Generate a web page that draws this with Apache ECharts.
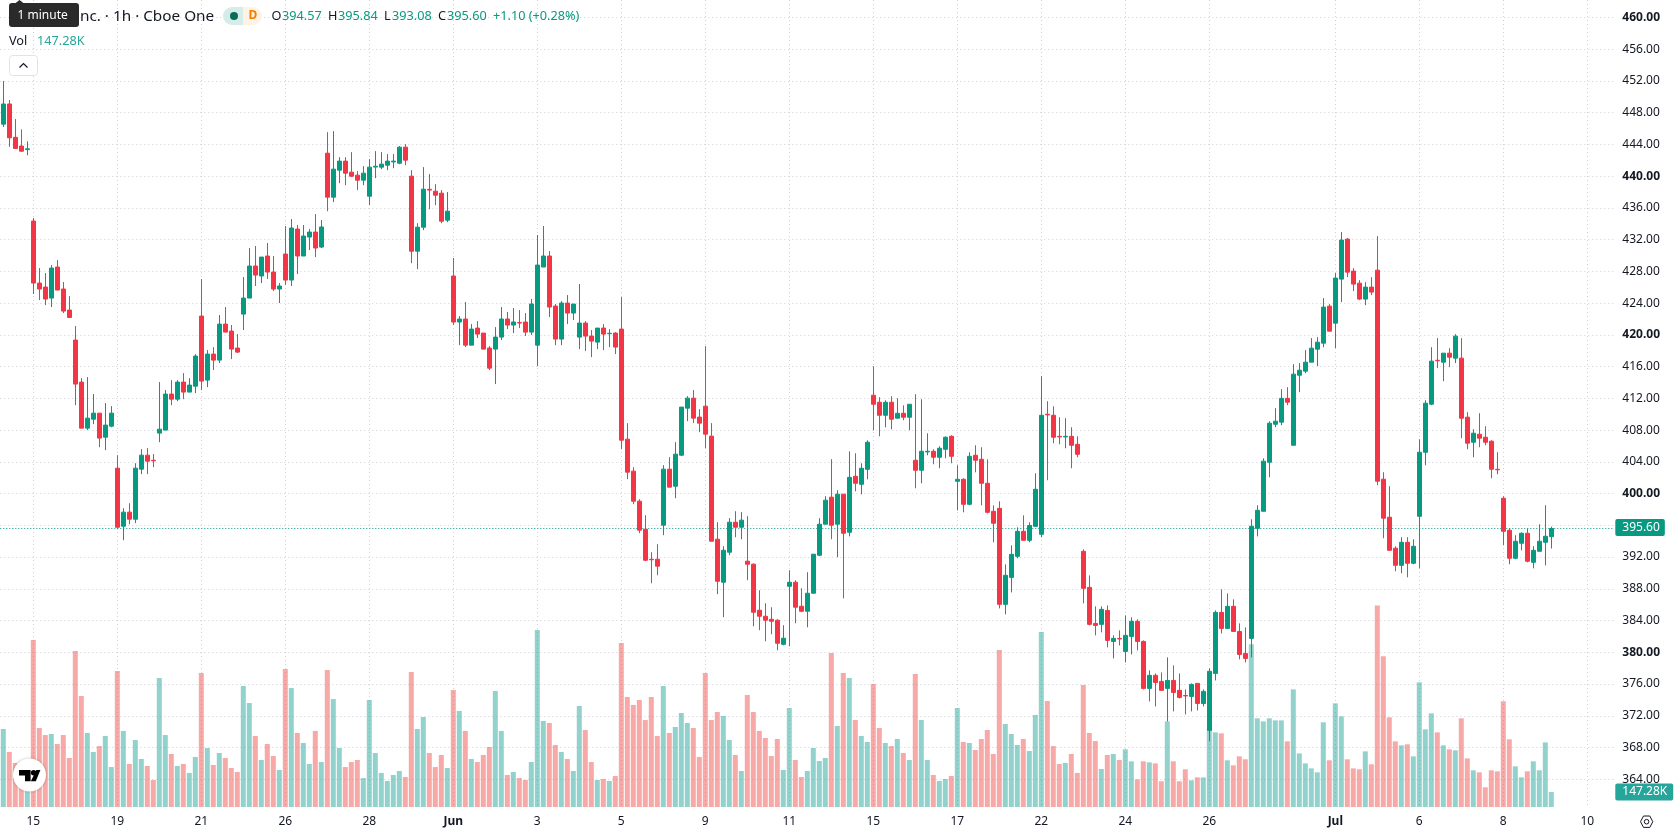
<!DOCTYPE html>
<html>
<head>
<meta charset="utf-8">
<title>1h candlestick chart</title>
<style>
html,body{margin:0;padding:0;background:#fff;overflow:hidden}
#chart{width:1678px;height:835px}
</style>
<script src="https://cdn.jsdelivr.net/npm/echarts@6/dist/echarts.min.js"></script>
</head>
<body>
<div id="chart"></div>
<script>
// Hourly session prices, oldest bar first.
const opens = [
446.56,449.1,444.9,443.8,443.35,434.35,426.53,426.03,424.64,428.55,
425.78,423.13,419.35,414.05,408.25,409.38,410.14,407.11,408.5,403.2,
395.89,397.66,396.77,403.08,404.84,404.2,407.62,408,412.54,411.9,
414.05,412.79,413.54,422.37,414.3,417.58,416.82,421.36,420.48,418.34,
422.62,424.64,428.68,427.42,429.94,427.92,425.78,430.19,426.91,433.34,
429.94,432.33,432.96,431.07,442.9,437.36,440.76,441.9,440.51,440.13,
439.5,437.48,441.15,441.14,441.39,441.8,441.64,443.66,440,430.55,
433.57,438.35,438.11,437.86,434.46,427.42,421.62,422,418.71,420.86,
420.23,418.34,418.21,419.72,422,421.24,421.55,421.62,420.35,418.71,
428.55,429.94,423.63,419.47,424.01,422.75,419.72,421.49,419.85,419.09,
420.86,420.15,420.23,420.73,406.86,402.83,399.04,395.51,391.72,391.73,
396.02,403.08,400.93,404.84,410.77,412.03,409.64,411.02,407.24,394.25,
388.83,392.61,396.39,395.76,391.48,391.1,385.3,384.54,384.16,384.04,
381,388.32,388.83,385.8,385.17,387.44,392.23,396.14,399.55,396.14,
399.93,395.12,402.18,401.17,403.06,412.39,411.51,409.87,411.51,409.5,
410.12,409.62,404.2,402.94,405.25,405.33,404.58,405.58,407.22,401.55,
401.8,398.65,404.83,404.32,401.3,397.77,398.14,386.04,389.44,392.09,
395.24,394.11,395.87,394.87,410,409.87,407.22,407.14,407.22,406.21,
392.72,388.18,383.64,383.52,385.28,381.37,381.74,380.11,382,383.9,
381.37,375.45,377.09,376.33,375.45,376.45,375.2,374.55,374.44,376.08,
373.55,370.16,377.34,385.03,383.01,385.79,382.63,379.86,381.75,395.62,
397.77,403.95,408.74,409,412,406.09,414.92,415.43,416.56,418.2,
418.96,423.62,421.48,427.03,432.07,428.04,426.52,424.51,426.02,428.16,
401.81,397.02,393.11,390.96,393.86,391.22,397.14,405.21,411.27,416.8,
416.56,417.7,417.07,417.07,409.63,406.47,407.48,407.1,406.6,403.06,
399.41,395.38,391.85,393.74,395,391.34,392.73,393.86,394.57
];
const closes = [
449.1,444.84,443.5,443.15,443.45,426.53,425.78,424.52,428.42,425.65,
423,422.2,413.8,408.25,409.51,410.14,406.99,408.63,410.14,395.76,
397.66,396.77,403.2,404.84,404.09,404.13,408.12,412.54,411.9,414.05,
412.79,413.67,417.33,414.18,417.58,416.82,421.36,420.35,418.21,417.83,
424.64,428.68,427.54,429.81,427.92,425.78,426.16,426.91,433.47,429.94,
432.46,432.96,430.95,433.6,437.36,440.89,441.9,440.38,440,439.5,
440.38,441.14,441.25,441.52,441.9,441.9,443.66,442.02,430.55,433.57,
438.37,438.25,437.61,434.33,435.59,421.62,422,418.71,420.73,420.1,
418.21,415.81,419.72,422,421.24,421.62,421.5,420.35,423.89,428.8,
429.94,423.51,419.47,424.01,422.75,423.89,421.49,419.85,419.22,420.86,
420.1,420.2,418.46,406.73,402.7,399.04,395.39,391.6,391.66,390.85,
403.08,400.81,404.97,410.9,412.03,409.51,408.88,407.49,394,388.95,
392.86,396.39,395.76,396.65,391.1,385.05,384.54,384.04,383.91,381.14,
381.77,388.83,385.68,385.17,387.44,392.36,396.14,399.17,396.02,399.93,
395,402.05,401.3,403.19,406.47,411.26,409.87,411.51,409.37,410.12,
409.62,411.26,402.94,405.33,405.33,404.58,405.71,407.1,404.7,401.8,
398.65,404.7,404.2,401.3,397.64,396.26,386.04,389.7,392.34,395.24,
394.11,395.98,400.54,409.87,409.92,407.1,407.14,407.22,406.09,404.95,
388.06,383.52,383.39,385.41,381.5,381.75,381.68,382.13,383.9,381.37,
375.45,377.09,376.2,375.2,376.45,374.94,374.31,374.5,375.95,373.55,
375.07,377.6,385.03,383.01,385.79,382.63,379.73,379.23,395.87,397.89,
404.08,408.87,409.12,412,411.52,415.05,415.55,416.56,418.33,419.08,
423.5,420.47,427.16,431.95,427.91,426.4,424.51,426.02,425.39,401.56,
396.89,392.85,390.96,393.86,391.22,393.36,405.21,411.39,416.69,416.74,
417.7,417.19,419.84,409.5,406.35,407.61,406.98,406.47,403.07,403,
395.25,391.85,393.99,395,391.47,392.85,393.99,394.62,395.6
];
const highs = [
452,449.6,447.2,445.9,444.4,434.73,428.42,427.79,428.8,429.43,
426.66,424.89,421.11,414.55,414.68,412.54,410.14,411.4,411.02,404.84,
398.16,398.79,403.83,405.6,405.73,404.97,414.05,413.04,414.3,414.3,
415.18,414.55,417.58,427.04,418.08,418.46,422.5,423.51,421.24,420.1,
427.29,430.95,431.2,429.81,431.58,429.94,426.53,433.72,434.6,433.85,
433.85,433.34,435.23,434.48,445.55,445.68,442.4,442.4,443.03,440.64,
441.27,442.15,443.16,443.03,442.78,442.78,443.79,444.04,440.76,434.08,
441.14,440.26,439,438.24,438,429.69,422.37,424.14,421.36,421.74,
420.23,418.59,420.98,423.51,422.88,423.38,423.13,422.75,424.52,432.59,
433.72,430.57,423.89,424.26,425.02,423.89,426.41,421.74,420.61,420.86,
421.36,420.73,420.35,424.77,408.88,403.33,399.29,397.28,392.61,393.62,
403.58,404.59,406.48,410.9,412.28,413.04,410.64,418.59,408.88,396.39,
393.37,396.9,397.78,397.66,397.15,391.2,387.82,386.18,385.68,384.16,
383.41,390.34,389.08,388.07,390.09,392.36,396.9,399.67,404.34,400.43,
399.93,405.33,405.08,403.82,406.72,416.05,412.14,411.76,412.27,412.02,
411.13,411.26,412.52,411.89,407.6,405.58,405.96,407.22,407.35,403.57,
401.93,405.2,406.09,405.84,404.32,398.52,399.03,391.08,393.48,395.75,
397.26,396.38,402.56,414.79,411.64,411,409.62,409.5,408.36,407.22,
392.97,389.69,385.79,385.79,385.91,382.13,382.76,384.65,384.4,384.15,
381.5,377.72,377.34,377.46,379.36,378.35,377.34,375.32,376.08,376.08,
375.32,377.97,385.28,387.93,387.42,386.67,383.64,383.14,396.76,398.52,
404.45,409.12,410.76,413.16,413.41,416.31,416.44,418.08,419.59,419.71,
424.63,423.88,427.79,432.96,432.2,428.42,426.9,426.65,427.28,432.45,
402.69,400.93,393.36,394.5,394.5,394.24,406.85,411.77,418.45,419.59,
417.7,418.33,420.09,419.59,410.26,408.11,410.13,408.49,406.73,405.21,
399.66,395.63,394.75,395.12,395.63,393.36,396.13,398.53,395.84
];
const lows = [
446.2,443.7,443.5,443.1,442.65,425.15,424.39,423.76,423.51,425.65,
422.75,422.12,411.15,408.25,408,408.75,405.85,405.47,408.37,395.5,
394.12,396.14,396.27,402.45,402.45,403.33,406.48,408,411.15,411.65,
411.9,412.79,412.66,413.04,413.42,415.56,416.45,420.35,416.95,417.71,
420.61,424.64,426.16,426.53,427.04,425.52,424.01,426.28,426.16,427.67,
429.94,430.69,429.81,430.95,435.59,436.73,439.12,438.87,439.88,438.24,
438.87,436.35,439.75,440.89,440.76,441,441.52,441.39,429.04,428.28,
433.2,435.84,436.35,434.08,434.2,421.24,418.71,418.46,418.71,419.6,
418.21,415.56,413.8,419.35,420.73,420.23,420.86,419.85,419.98,416.07,
428.55,422.25,418.71,418.71,421.36,421.87,418.21,417.96,417.2,418.21,
418.08,418.46,417.58,405.6,401.82,398.66,395.01,391.48,388.7,389.71,
394.76,400.81,399.42,404.72,409.13,408.88,407.74,405.73,394,387.32,
384.42,392.23,394.5,394.25,389.08,383.28,382.78,381.39,382.27,380.25,
380.88,380.76,383.66,385.05,383.15,387.44,392.11,396.14,394.25,391.98,
386.8,394.61,400.29,399.91,401.8,407.98,407.22,408.36,408.11,409.5,
409.24,407.98,400.67,401.3,404.83,403.69,403.19,404.45,403.82,397.89,
397.64,398.52,402.68,398.52,397.51,393.86,385.53,384.78,387.55,391.84,
394.11,393.86,395.87,394.49,401.68,406.34,406.21,405.71,403.19,404.58,
386.17,383.39,382.13,382.51,380.62,379.23,380.87,378.72,379.73,380.24,
375.32,373.81,373.18,375.2,371.28,372.55,374.18,372.17,372.55,372.67,
373.18,368.77,376.45,382.38,383.01,382.63,379.1,378.72,379.35,394.61,
397.77,402.06,408.37,408.62,411.14,406.09,412.78,415.17,416.56,416.06,
418.45,420.47,418.33,424.13,427.28,425.52,424.38,423.75,425.01,401.05,
394.37,392.85,390.21,389.96,389.45,391.09,390.58,403.57,411.14,415.81,
414.17,415.93,416.44,406.98,405.59,404.58,405.84,406.09,401.93,402.44,
393.49,391.09,391.72,392.85,391.34,390.58,392.73,390.96,393.08
];
// Traded volume per bar, in thousands of shares.
const volumesK = [
765,540,432,445,298,1638,775,706,716,618,
706,481,1530,1089,726,540,598,697,392,1334,
746,422,657,471,402,265,1265,706,520,402,
422,334,491,1315,579,412,530,481,383,343,
1187,1020,697,461,618,500,363,1354,1167,726,
628,422,746,441,1344,1059,579,392,441,461,
284,1050,530,334,255,314,353,294,1324,765,
883,530,392,510,383,1148,942,746,471,441,
510,589,1138,746,314,343,284,265,441,1736,
844,824,608,540,471,353,991,755,441,265,
275,255,304,1609,1079,1001,1050,853,1079,697,
1187,726,785,922,824,775,491,1315,853,932,
893,657,510,353,1099,932,746,677,500,667,
363,971,461,294,353,579,451,481,1511,795,
1315,1265,853,697,638,1207,775,628,598,667,
530,461,1305,853,461,314,255,275,304,971,
638,628,559,667,755,520,1540,814,716,608,
667,549,903,1717,1040,598,422,432,520,334,
1197,726,647,373,510,520,461,566,448,271,
448,438,428,252,840,448,252,370,262,291,
291,768,732,723,458,409,497,468,1596,870,
840,870,850,850,644,1154,526,428,379,340,
831,458,1017,889,468,379,370,546,419,1978,
1478,880,644,605,615,497,1223,762,919,732,
605,566,556,870,477,360,340,193,360,350,
1037,664,399,291,350,448,360,634,147.28
];
// Date labels and the bar each one sits on; the slots after the last bar stay empty.
const dateLabels = ['15','19','21','26','28','Jun','3','5','9','11','15','17','22','24','26','Jul','6','8','10'];
const dateBars = [5,19,33,47,61,75,89,103,117,131,145,159,173,187,201,222,236,250,264];
const boldPrices = [460,440,420,400,380];
const lastPrice = 395.60;
const lastVolumeK = 147.28;
const slotCount = 269;

const UP = '#089981', DOWN = '#F23645';
const UP_VOL = 'rgba(38,166,154,0.5)', DOWN_VOL = 'rgba(239,83,80,0.5)';
const INK = '#131722';
const FONT = '"Noto Sans", sans-serif';
const GRID_DOT = '#cfd1d6';

const slots = Array.from({length: slotCount}, (_, i) => {
  const at = dateBars.indexOf(i);
  return at >= 0 ? dateLabels[at] : '';
});
const isDateBar = i => dateBars.includes(i);

const candleData = opens.map((o, i) => [o, closes[i], lows[i], highs[i]]);
const volumeData = volumesK.map((v, i) => ({
  value: v,
  itemStyle: {color: closes[i] >= opens[i] ? UP_VOL : DOWN_VOL}
}));

function textAt(text, x, y, fill, size, weight) {
  return {type: 'text', silent: true, z: 30, style: {
    text, x, y, fill, textVerticalAlign: 'middle',
    font: `${weight || 'normal'} ${size || 12.7}px "Noto Sans", sans-serif`
  }};
}

// Header strip, collapse button, brand badge and settings glyph.
const overlay = [
  textAt('nc. · 1h · Cboe One', 80, 16.5, INK, 15.3),
  {type: 'rect', silent: true, z: 30, shape: {x: 223, y: 7, width: 20, height: 18, r: [9, 0, 0, 9]}, style: {fill: '#d5ede9'}},
  {type: 'rect', silent: true, z: 30, shape: {x: 243, y: 7, width: 19, height: 18, r: [0, 9, 9, 0]}, style: {fill: '#fff3e6'}},
  {type: 'circle', silent: true, z: 31, shape: {cx: 234, cy: 16, r: 4}, style: {fill: '#0b6b5b'}},
  textAt('D', 248.5, 16, '#f57c00', 12, 'bold'),
  textAt('O', 271.5, 16.5, INK),
  textAt('394.57', 282, 16.5, UP),
  textAt('H', 328, 16.5, INK),
  textAt('395.84', 338, 16.5, UP),
  textAt('L', 384, 16.5, INK),
  textAt('393.08', 392, 16.5, UP),
  textAt('C', 438, 16.5, INK),
  textAt('395.60', 447, 16.5, UP),
  textAt('+1.10 (+0.28%)', 493, 16.5, UP),
  textAt('Vol', 9, 41, INK),
  textAt('147.28K', 37, 41, '#26a69a'),
  {type: 'rect', silent: true, z: 30, shape: {x: 9.5, y: 55.5, width: 28, height: 20, r: 3}, style: {fill: '#fff', stroke: '#e0e3eb', lineWidth: 1}},
  {type: 'polyline', silent: true, z: 31, shape: {points: [[19.5, 67.5], [23.5, 63.5], [27.5, 67.5]]}, style: {fill: 'none', stroke: INK, lineWidth: 1.2}},
  {type: 'polygon', silent: true, z: 32, shape: {points: [[15, 3.5], [19.5, 0], [24, 3.5]]}, style: {fill: '#2a2a2a'}},
  {type: 'rect', silent: true, z: 32, shape: {x: 9, y: 3, width: 70, height: 24, r: 3}, style: {fill: '#2a2a2a'}},
  {type: 'text', silent: true, z: 33, style: {text: '1 minute', x: 17.5, y: 15.5, fill: '#fff', textVerticalAlign: 'middle', font: '12px "Noto Sans", sans-serif'}},
  {type: 'circle', silent: true, z: 30, shape: {cx: 29.5, cy: 775, r: 16.5}, style: {fill: '#fff', shadowBlur: 3, shadowColor: 'rgba(0,0,0,0.25)'}},
  {type: 'polygon', silent: true, z: 31, shape: {points: [[19, 770], [30.6, 770], [30.6, 781.2], [25, 781.2], [25, 775.4], [19, 775.4]]}, style: {fill: '#000'}},
  {type: 'circle', silent: true, z: 31, shape: {cx: 33.6, cy: 772.7, r: 2.7}, style: {fill: '#000'}},
  {type: 'polygon', silent: true, z: 31, shape: {points: [[36.4, 770], [40.4, 770], [35.8, 781.2], [30.8, 781.2]]}, style: {fill: '#000'}},
  {type: 'polygon', silent: true, z: 30, shape: {points: [[1640.5, 821.7], [1643.5, 816], [1649.8, 816], [1652.8, 821.7], [1649.8, 827.4], [1643.5, 827.4]]}, style: {fill: 'none', stroke: INK, lineWidth: 1}},
  {type: 'circle', silent: true, z: 30, shape: {cx: 1646.6, cy: 821.7, r: 2.3}, style: {fill: 'none', stroke: INK, lineWidth: 1}}
];

const chart = echarts.init(document.getElementById('chart'), null, {renderer: 'canvas'});
chart.setOption({
  animation: false,
  backgroundColor: '#fff',
  textStyle: {fontFamily: FONT},
  tooltip: {show: false},
  grid: [
    {left: 0.3, top: 17.5, width: 1614, height: 761.74},
    {left: 0.3, top: 0, width: 1614, height: 807}
  ],
  xAxis: [
    {type: 'category', gridIndex: 0, data: slots, show: false, boundaryGap: true},
    {
      type: 'category', gridIndex: 1, data: slots, boundaryGap: true,
      axisLine: {show: false},
      axisTick: {show: false},
      axisLabel: {
        show: true, interval: i => isDateBar(i), margin: 9, color: INK, fontSize: 12, fontFamily: FONT,
        hideOverlap: false,
        formatter: v => (v === 'Jun' || v === 'Jul') ? `{m|${v}}` : v,
        rich: {m: {fontWeight: 'bold', fontSize: 12, color: INK, fontFamily: FONT}}
      },
      splitLine: {show: true, alignWithLabel: true, interval: i => isDateBar(i), lineStyle: {color: GRID_DOT, type: [1, 3], width: 1}}
    }
  ],
  yAxis: [
    {
      type: 'value', gridIndex: 0, position: 'right', min: 364, max: 460, interval: 4, scale: true,
      axisLine: {show: false}, axisTick: {show: false},
      splitLine: {show: true, lineStyle: {color: GRID_DOT, type: [1, 3], width: 1}},
      axisLabel: {
        inside: false, margin: 8, color: INK, fontSize: 12, fontFamily: FONT, align: 'left',
        formatter: v => boldPrices.includes(v) ? `{b|${v.toFixed(2)}}` : v.toFixed(2),
        rich: {b: {fontWeight: 'bold', fontSize: 12, color: INK, fontFamily: FONT}}
      }
    },
    {type: 'value', gridIndex: 1, min: 0, max: 7917, show: false, splitLine: {show: false}}
  ],
  series: [
    {
      type: 'bar', name: 'Vol', xAxisIndex: 1, yAxisIndex: 1, data: volumeData, barWidth: 5, z: 2, silent: true,
      markLine: {
        silent: true, symbol: 'none', animation: false,
        lineStyle: {color: 'rgba(0,0,0,0)', width: 0},
        label: {
          position: 'end', distance: 1, formatter: lastVolumeK.toFixed(2) + 'K', color: '#fff', fontSize: 12, fontFamily: FONT,
          backgroundColor: '#26a69a', padding: [0, 6, 0, 7], lineHeight: 17, borderRadius: 2
        },
        data: [{yAxis: lastVolumeK}]
      }
    },
    {
      type: 'candlestick', name: 'Price', xAxisIndex: 0, yAxisIndex: 0, data: candleData, barWidth: 4, z: 5, silent: true,
      itemStyle: {color: UP, color0: DOWN, borderColor: UP, borderColor0: DOWN, borderWidth: 1},
      markLine: {
        silent: true, symbol: 'none', animation: false,
        lineStyle: {color: UP, type: [1, 2], width: 1},
        label: {
          position: 'end', distance: 1, offset: [0, -1], formatter: lastPrice.toFixed(2), color: '#fff', fontSize: 12, fontFamily: FONT,
          backgroundColor: UP, padding: [0, 5, 0, 7], lineHeight: 17, borderRadius: 2
        },
        data: [{yAxis: lastPrice}]
      }
    }
  ],
  graphic: {elements: overlay}
});
</script>
</body>
</html>
